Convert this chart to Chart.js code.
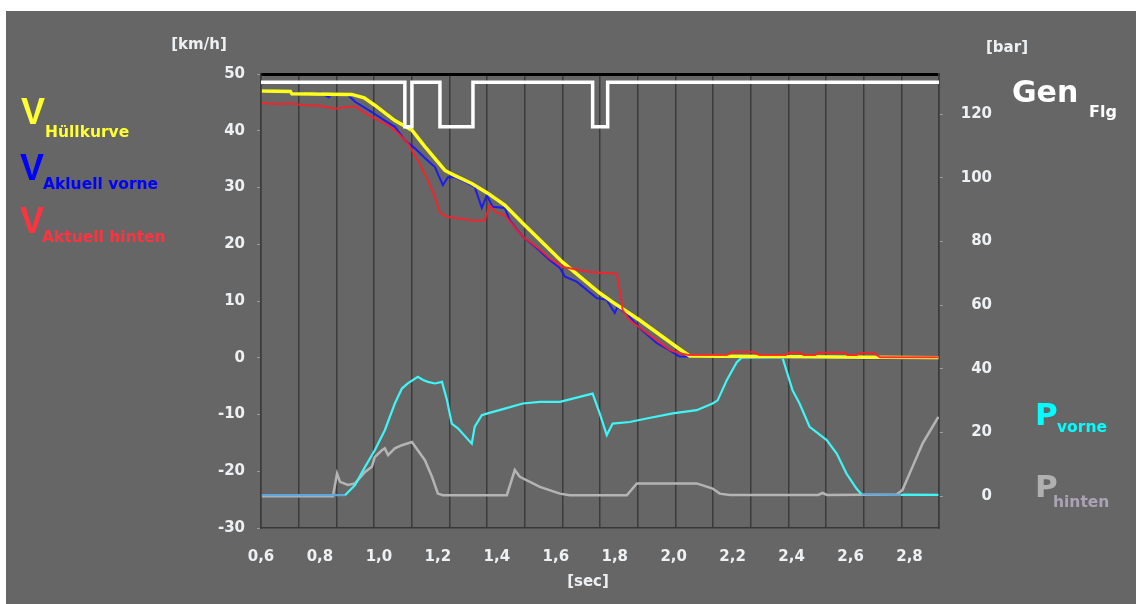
<!DOCTYPE html>
<html>
<head>
<meta charset="utf-8">
<script src="https://cdn.jsdelivr.net/npm/chart.js@4/dist/chart.umd.min.js"></script>
<style>
  html, body { margin: 0; padding: 0; background: #ffffff; }
  #wrap { position: relative; width: 1136px; height: 604px; }
</style>
</head>
<body>
<div id="wrap"><canvas id="c" width="1136" height="604"></canvas></div>
<script>
// Time axis [sec]
const xTicks = [0.6, 0.8, 1.0, 1.2, 1.4, 1.6, 1.8, 2.0, 2.2, 2.4, 2.6, 2.8];
const speedTicks = [-30, -20, -10, 0, 10, 20, 30, 40, 50];
const pressureTicks = [0, 20, 40, 60, 80, 100, 120];
const gridDivisions = 18;

// V Hüllkurve [km/h]
const hullT = [0.603, 0.700, 0.705, 0.908, 0.950, 0.986, 1.054, 1.112, 1.156, 1.224, 1.258, 1.315, 1.369, 1.427, 1.488, 1.624, 1.749, 1.793, 1.885, 2.010, 2.054, 2.898];
const hullV = [47.0, 46.9, 46.5, 46.4, 45.8, 44.5, 41.8, 40.1, 37.2, 33.0, 32.1, 30.7, 29.0, 26.9, 23.7, 16.8, 11.4, 9.8, 6.6, 1.9, 0.3, 0.0];

// V Aktuell vorne [km/h]
const frontT = [0.603, 0.640, 0.700, 0.760, 0.800, 0.830, 0.840, 0.860, 0.895, 0.919, 0.976, 1.020, 1.054, 1.088, 1.122, 1.156, 1.190, 1.217, 1.234, 1.258, 1.292, 1.325, 1.349, 1.366, 1.386, 1.427, 1.444, 1.488, 1.536, 1.580, 1.614, 1.631, 1.671, 1.739, 1.773, 1.800, 1.810, 1.851, 1.885, 1.942, 1.986, 2.020, 2.898];
const frontV = [47.2, 47.0, 46.8, 46.4, 46.7, 45.9, 46.5, 46.5, 46.3, 45.1, 43.3, 41.8, 40.7, 38.3, 36.9, 35.2, 33.6, 30.4, 31.8, 31.8, 31.0, 30.1, 26.4, 28.6, 26.6, 26.4, 24.2, 21.3, 19.3, 17.2, 15.8, 14.3, 13.4, 10.5, 10.2, 7.9, 9.0, 7.2, 5.2, 2.6, 1.3, 0.2, -0.2];

// V Aktuell hinten [km/h]
const rearT = [0.603, 0.650, 0.700, 0.749, 0.800, 0.851, 0.880, 0.919, 0.953, 0.986, 1.031, 1.064, 1.098, 1.132, 1.166, 1.190, 1.207, 1.234, 1.280, 1.315, 1.359, 1.376, 1.393, 1.427, 1.488, 1.536, 1.580, 1.624, 1.715, 1.807, 1.817, 1.827, 1.851, 1.895, 1.942, 1.986, 2.020, 2.050, 2.180, 2.200, 2.270, 2.290, 2.380, 2.390, 2.430, 2.440, 2.480, 2.490, 2.580, 2.590, 2.620, 2.630, 2.680, 2.700, 2.898];
const rearV = [44.9, 44.7, 44.8, 44.5, 44.4, 43.9, 44.1, 44.3, 43.1, 42.2, 41.0, 39.6, 37.8, 34.8, 31.3, 28.3, 25.5, 24.8, 24.5, 24.2, 24.2, 26.9, 25.7, 25.1, 21.3, 19.5, 17.5, 16.0, 15.1, 14.8, 11.9, 8.4, 6.6, 4.9, 3.1, 1.4, 0.8, 0.5, 0.5, 1.0, 1.0, 0.5, 0.5, 0.9, 0.9, 0.5, 0.5, 0.9, 0.9, 0.5, 0.5, 0.8, 0.8, 0.1, 0.1];

// P vorne [bar]
const pFrontT = [0.603, 0.700, 0.800, 0.885, 0.919, 0.953, 0.986, 1.020, 1.054, 1.078, 1.098, 1.132, 1.150, 1.166, 1.190, 1.214, 1.231, 1.247, 1.268, 1.315, 1.325, 1.349, 1.369, 1.427, 1.488, 1.546, 1.614, 1.681, 1.725, 1.749, 1.773, 1.793, 1.851, 1.908, 1.997, 2.078, 2.132, 2.149, 2.180, 2.214, 2.231, 2.369, 2.403, 2.427, 2.461, 2.519, 2.553, 2.586, 2.620, 2.637, 2.770, 2.780, 2.898];
const pFrontV = [0.3, 0.3, 0.3, 0.3, 3.5, 9.2, 14.4, 20.7, 29.1, 33.8, 35.4, 37.5, 36.5, 35.9, 35.4, 35.9, 30.1, 22.8, 21.3, 16.5, 21.8, 25.4, 26.0, 27.5, 29.1, 29.6, 29.6, 31.2, 32.2, 26.0, 19.2, 22.8, 23.3, 24.4, 26.0, 27.0, 29.1, 30.1, 36.4, 42.1, 43.5, 43.5, 33.3, 29.1, 21.8, 17.6, 13.4, 7.1, 2.4, 0.6, 0.4, 0.5, 0.4];

// P hinten [bar]
const pRearT = [0.603, 0.844, 0.858, 0.868, 0.895, 0.919, 0.953, 0.976, 0.986, 1.010, 1.020, 1.031, 1.054, 1.078, 1.112, 1.132, 1.156, 1.180, 1.200, 1.217, 1.434, 1.461, 1.478, 1.546, 1.614, 1.647, 1.841, 1.875, 2.078, 2.132, 2.156, 2.190, 2.490, 2.505, 2.520, 2.756, 2.776, 2.810, 2.844, 2.878, 2.898];
const pRearV = [0.0, 0.0, 7.1, 4.5, 3.5, 4.0, 7.6, 9.2, 12.3, 14.4, 15.0, 12.9, 15.0, 16.0, 17.0, 14.4, 11.3, 6.1, 0.8, 0.3, 0.3, 8.2, 6.1, 2.9, 0.8, 0.3, 0.3, 4.0, 4.0, 2.4, 0.8, 0.4, 0.4, 1.0, 0.4, 0.5, 1.9, 9.2, 16.5, 21.8, 24.9];

// Gen Flg (step signal, drawn on the bar axis)
const genT = [0.6, 1.088, 1.112, 1.207, 1.319, 1.725, 1.776, 2.9];
const genV = [130, 116, 130, 116, 130, 116, 130, 130];

const pts = (t, v) => t.map((x, i) => ({ x: x, y: v[i] }));
const FONT = "'DejaVu Sans', sans-serif";
const tickFont = { family: FONT, weight: 'bold', size: 15 };
const tickColor = '#eef1f4';

const panel = {
  id: 'panel',
  beforeDraw(chart) {
    const ctx = chart.ctx;
    ctx.save();
    ctx.fillStyle = '#666666';
    ctx.fillRect(6, 11, chart.width - 6, chart.height - 11);
    ctx.restore();
  },
  afterDraw(chart) {
    const ctx = chart.ctx;
    ctx.save();
    ctx.textBaseline = 'alphabetic';
    const txt = (s, x, y, font, color, align) => {
      ctx.font = font; ctx.fillStyle = color; ctx.textAlign = align || 'left';
      ctx.fillText(s, x, y);
    };
    const b15 = "bold 15px " + FONT;
    const sub = "bold 15.5px " + FONT;
    // axis units
    txt('[km/h]', 199, 49, b15, tickColor, 'center');
    txt('[bar]', 1007, 52, b15, tickColor, 'center');
    txt('[sec]', 588, 586, b15, tickColor, 'center');
    // speed legend
    const big = "bold 36px 'Liberation Sans', Arial, sans-serif";
    txt('V', 21, 124, big, '#ffff33');
    txt('Hüllkurve', 45, 137, sub, '#ffff33');
    txt('V', 20, 180, big, '#0000ff');
    txt('Akluell vorne', 43, 189, sub, '#0000ff');
    txt('V', 20, 233, big, '#ff3340');
    txt('Aktuell hinten', 42, 242, sub, '#ff3340');
    // right-hand legend
    const big2 = "bold 30px " + FONT;
    txt('Gen', 1012, 102, big2, '#ffffff');
    txt('Flg', 1089, 117, "bold 16px " + FONT, '#ffffff');
    txt('P', 1035, 425, "bold 31px " + FONT, '#00ffff');
    txt('vorne', 1057, 432, sub, '#00ffff');
    txt('P', 1035, 497, "bold 31px " + FONT, '#b0b0b0');
    txt('hinten', 1053, 507, sub, '#aaa3b6');
    ctx.restore();
  }
};

new Chart(document.getElementById('c'), {
  type: 'line',
  data: {
    datasets: [
      { label: 'Gen Flg', data: pts(genT, genV), yAxisID: 'y2', borderColor: '#ffffff', borderWidth: 3.5, stepped: 'before', order: 0 },
      { label: 'V Aktuell hinten', data: pts(rearT, rearV), yAxisID: 'y', borderColor: 'rgba(255,30,40,0.9)', borderWidth: 2, order: 1 },
      { label: 'V Hüllkurve', data: pts(hullT, hullV), yAxisID: 'y', borderColor: '#ffff1a', borderWidth: 3.5, order: 2 },
      { label: 'V Aktuell vorne', data: pts(frontT, frontV), yAxisID: 'y', borderColor: 'rgba(20,20,255,0.9)', borderWidth: 2, order: 3 },
      { label: 'P vorne', data: pts(pFrontT, pFrontV), yAxisID: 'y2', borderColor: '#3ff5f5', borderWidth: 2.2, order: 4,
        segment: { borderColor: c => (c.p0.parsed.y < 0.7 && c.p1.parsed.y < 0.7 && c.p1.parsed.x <= 2.77) ? '#5fa6dc' : undefined } },
      { label: 'P hinten', data: pts(pRearT, pRearV), yAxisID: 'y2', borderColor: '#b4b4b4', borderWidth: 2.5, order: 5 }
    ]
  },
  options: {
    responsive: true,
    maintainAspectRatio: false,
    animation: false,
    devicePixelRatio: 1,
    layout: { padding: { left: 0, top: 0, bottom: 0, right: 144 } },
    elements: { point: { radius: 0 }, line: { tension: 0 } },
    plugins: { legend: { display: false }, tooltip: { enabled: false }, title: { display: false } },
    scales: {
      x: {
        type: 'linear', position: 'bottom', min: 0.6, max: 2.9,
        afterFit: s => { s.height = 76; },
        afterBuildTicks: s => { s.ticks = xTicks.map(v => ({ value: v })); },
        ticks: { color: tickColor, font: tickFont, padding: 12, maxRotation: 0, autoSkip: false,
                 callback: v => v.toFixed(1).replace('.', ',') },
        grid: { display: false },
        border: { color: '#383838', width: 1.5 }
      },
      xg: {
        type: 'linear', position: 'top', min: 0, max: gridDivisions,
        afterFit: s => { s.height = 74; },
        afterBuildTicks: s => { s.ticks = Array.from({ length: gridDivisions + 1 }, (_, i) => ({ value: i })); },
        ticks: { display: false },
        grid: { color: '#3b3b3b', lineWidth: 1.5, drawTicks: false },
        border: { color: '#000000', width: 3 }
      },
      y: {
        position: 'left', min: -30, max: 50,
        afterFit: s => { s.width = 261; },
        afterBuildTicks: s => { s.ticks = speedTicks.map(v => ({ value: v })); },
        ticks: { color: tickColor, font: tickFont, padding: 12 },
        grid: { drawOnChartArea: false, tickLength: 4, tickColor: '#9a9a9a' },
        border: { color: '#3b3b3b', width: 1.5 }
      },
      y2: {
        position: 'right', min: -10, max: 132.6,
        afterFit: s => { s.width = 53; },
        afterBuildTicks: s => { s.ticks = pressureTicks.map(v => ({ value: v })); },
        ticks: { color: tickColor, font: tickFont, padding: 18, crossAlign: 'far' },
        grid: { drawOnChartArea: false, tickLength: 4, tickColor: '#9a9a9a' },
        border: { color: '#3b3b3b', width: 1.5 }
      }
    }
  },
  plugins: [panel]
});
</script>
</body>
</html>
